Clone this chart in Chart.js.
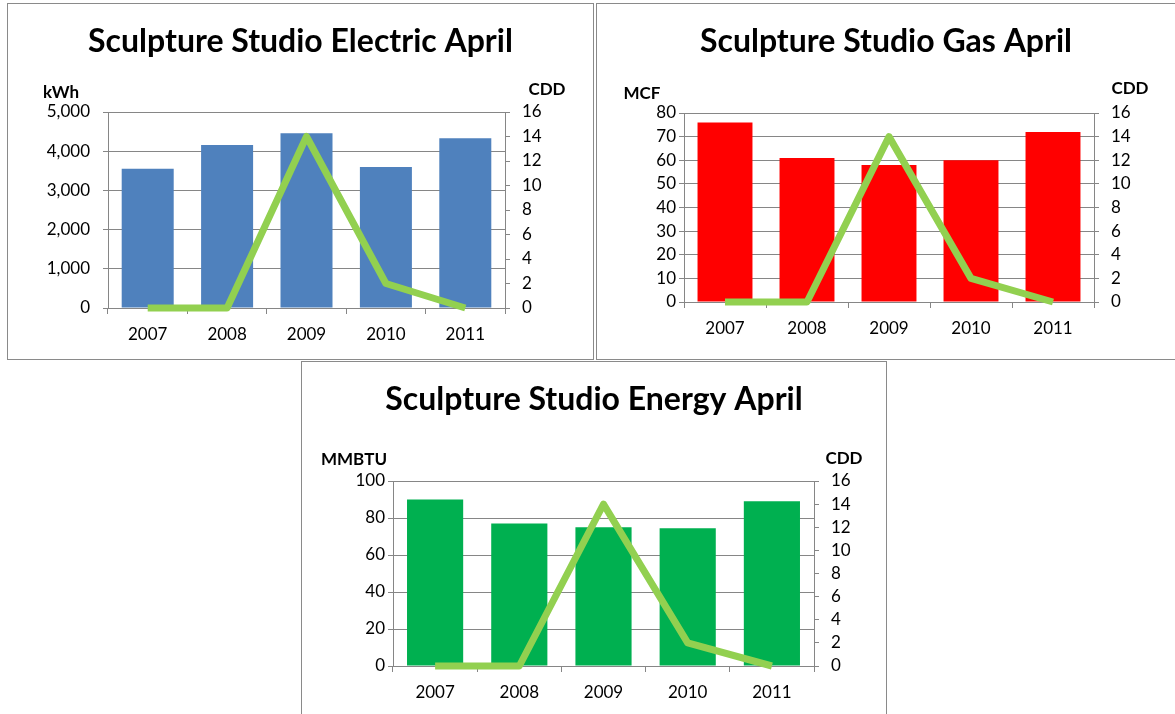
<!DOCTYPE html>
<html>
<head>
<meta charset="utf-8">
<script src="https://cdn.jsdelivr.net/npm/chart.js@4.4.1/dist/chart.umd.min.js"></script>
<style>
  body { margin: 0; background: #fff; width: 1175px; height: 714px; overflow: hidden; position: relative; }
  .panel { position: absolute; border: 1px solid #8a8a8a; box-sizing: border-box; background: #fff; }
  .panel canvas { display: block; }
</style>
</head>
<body>
<div class="panel" id="p-elec" style="left:7px; top:3px; width:587px; height:357px;"><canvas id="elecChart" width="585" height="355"></canvas></div>
<div class="panel" id="p-gas" style="left:596px; top:3px; width:580px; height:357px;"><canvas id="gasChart" width="578" height="355"></canvas></div>
<div class="panel" id="p-energy" style="left:301px; top:361px; width:586px; height:360px;"><canvas id="energyChart" width="584" height="358"></canvas></div>
<script>
// Chart data
const years = ['2007', '2008', '2009', '2010', '2011'];
const electricKwh = [3550, 4160, 4460, 3600, 4330];
const gasMcf = [76, 61, 58, 60, 72];
const energyMmbtu = [90, 77, 75, 74.5, 89];
const cdd = [0, 0, 14, 2, 0];

const FONT = 'Lato, "Open Sans", sans-serif';
const GRID = '#868686';

// Draws the chart title and the unit labels above each y axis
const labelsPlugin = {
  id: 'panelLabels',
  afterDraw(chart) {
    const o = chart.options.plugins.panelLabels;
    const ctx = chart.ctx;
    ctx.save();
    ctx.fillStyle = '#000';
    ctx.textAlign = 'center';
    ctx.textBaseline = 'middle';
    ctx.font = 'bold 32px ' + FONT;
    ctx.fillText(o.title, chart.width / 2, o.titleY);
    ctx.font = 'bold 17px ' + FONT;
    ctx.fillText(o.leftUnit, o.leftX, o.leftY);
    ctx.fillText('CDD', o.rightX, o.rightY);
    ctx.restore();
  }
};

// Build one combo chart (bars on left axis, CDD line on right axis)
function makeChart(canvasId, cfg) {
  const ctx = document.getElementById(canvasId).getContext('2d');
  const tickFont = { family: FONT, size: 17 };
  return new Chart(ctx, {
    type: 'bar',
    data: {
      labels: years,
      datasets: [
        {
          type: 'line',
          data: cdd,
          yAxisID: 'y1',
          borderColor: '#92D050',
          borderWidth: 7,
          borderJoinStyle: 'round',
          pointRadius: 0,
          tension: 0,
          clip: false,
          order: 0
        },
        {
          type: 'bar',
          data: cfg.values,
          yAxisID: 'y',
          backgroundColor: cfg.color,
          categoryPercentage: 1,
          barPercentage: cfg.barPct,
          order: 1
        }
      ]
    },
    options: {
      responsive: false,
      animation: false,
      layout: { padding: { top: cfg.plotTop, left: 0, right: 0, bottom: 0 } },
      plugins: {
        legend: { display: false },
        tooltip: { enabled: false },
        panelLabels: cfg.labels
      },
      scales: {
        x: {
          afterFit: s => { s.height = cfg.xHeight; },
          grid: { offset: true, drawOnChartArea: false, color: GRID, tickLength: 6 },
          border: { color: GRID },
          ticks: { color: '#000', font: tickFont, padding: 10, autoSkip: false }
        },
        y: {
          position: 'left',
          min: 0,
          max: cfg.max,
          afterFit: s => { s.width = cfg.leftWidth; },
          grid: { color: GRID, tickLength: 5 },
          border: { color: GRID },
          ticks: { stepSize: cfg.step, color: '#000', font: tickFont, padding: cfg.leftPad, autoSkip: false }
        },
        y1: {
          position: 'right',
          min: 0,
          max: 16,
          afterFit: s => { s.width = cfg.rightWidth; },
          grid: { drawOnChartArea: false, color: GRID, tickLength: 5 },
          border: { color: GRID },
          ticks: { stepSize: 2, color: '#000', font: tickFont, padding: 12, autoSkip: false }
        }
      }
    },
    plugins: [labelsPlugin]
  });
}

makeChart('elecChart', {
  values: electricKwh, color: '#4F81BD', max: 5000, step: 1000, barPct: 0.655,
  plotTop: 108, leftWidth: 100, rightWidth: 88, xHeight: 51, leftPad: 13,
  labels: { title: 'Sculpture Studio Electric April', titleY: 38, leftUnit: 'kWh', leftX: 53, leftY: 89, rightX: 539, rightY: 86 }
});

makeChart('gasChart', {
  values: gasMcf, color: '#FF0000', max: 80, step: 10, barPct: 0.67,
  plotTop: 109, leftWidth: 87, rightWidth: 81, xHeight: 57, leftPad: 3,
  labels: { title: 'Sculpture Studio Gas April', titleY: 38, leftUnit: 'MCF', leftX: 45, leftY: 90, rightX: 533, rightY: 85 }
});

makeChart('energyChart', {
  values: energyMmbtu, color: '#00B050', max: 100, step: 20, barPct: 0.667,
  plotTop: 119, leftWidth: 91, rightWidth: 72, xHeight: 54, leftPad: 3,
  labels: { title: 'Sculpture Studio Energy April', titleY: 38, leftUnit: 'MMBTU', leftX: 52, leftY: 98, rightX: 542, rightY: 97 }
});
</script>
</body>
</html>
